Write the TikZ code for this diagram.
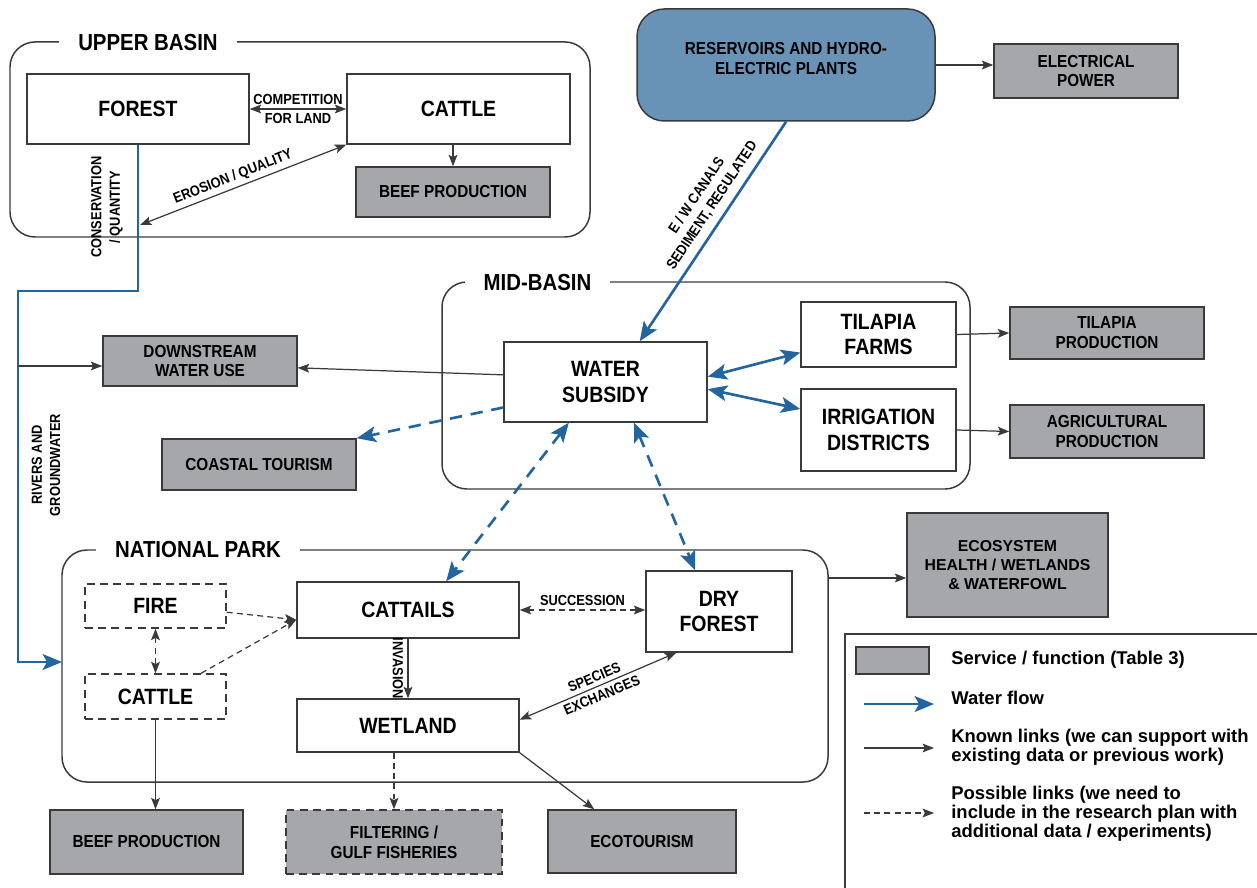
\documentclass[tikz,border=0pt]{standalone}
\usepackage{fontspec}
\setmainfont{Liberation Sans}
\newfontfamily\narrowfont{Liberation Sans}[FakeStretch=0.88]
\usetikzlibrary{arrows.meta,positioning}

\definecolor{flowblue}{HTML}{22659F}
\definecolor{reservoirblue}{HTML}{6893B7}
\definecolor{servicegray}{HTML}{A6A7AA}
\definecolor{edgegray}{HTML}{3A3A3A}

\begin{document}
\begin{tikzpicture}[x=0.02cm, y=-0.02cm,
            dims/.style 2 args={minimum width=#1*0.02cm, minimum height=#2*0.02cm},
            unit/.style={draw=edgegray, line width=0.85pt, rectangle, fill=white, align=center, inner sep=1pt, font=\narrowfont\bfseries\fontsize{12.6}{14.7}\selectfont},
            service/.style={unit, fill=servicegray, font=\narrowfont\bfseries\fontsize{9.9}{11.3}\selectfont},
            possible/.style={unit, dash pattern=on 4.5pt off 3pt},
            frame/.style={draw=edgegray, line width=0.85pt, rounded corners=0.5cm},
            title/.style={fill=white, inner xsep=0.38cm, inner ysep=1pt, font=\narrowfont\bfseries\fontsize{13.2}{15}\selectfont},
            tag/.style={inner sep=2pt, align=center, font=\narrowfont\bfseries\fontsize{8.3}{10.5}\selectfont},
            legend/.style={inner sep=0pt, align=left, font=\bfseries\fontsize{10.5}{10.8}\selectfont},
            arrow/.style={-{Stealth[length=6.5pt, width=5pt, inset=1.3pt]}, line width=0.7pt, draw=edgegray},
            twoway/.style={arrow, {Stealth[length=6.5pt, width=5pt, inset=1.3pt]}-{Stealth[length=6.5pt, width=5pt, inset=1.3pt]}},
            maybe/.style={arrow, dash pattern=on 3.4pt off 2.4pt},
            maybetwoway/.style={twoway, dash pattern=on 3.4pt off 2.4pt},
            flow/.style={-{Stealth[length=11pt, width=9pt, inset=2.5pt]}, line width=1.5pt, draw=flowblue},
            flowtwoway/.style={flow, {Stealth[length=11pt, width=9pt, inset=2.5pt]}-{Stealth[length=11pt, width=9pt, inset=2.5pt]}},
            flowdash/.style={flow, dash pattern=on 7pt off 5pt},
            flowmaybe/.style={flowtwoway, dash pattern=on 7pt off 5pt}
        ]
            \useasboundingbox (0,0) rectangle (1257,888);

% Upper basin
            \draw [frame] (10,42) rectangle (590,237);
            \node (upperlabel) [title] at (148,43) {UPPER BASIN};
            \node (forest) [unit, dims={222}{70}] at (138,109) {FOREST};
            \node (cattleU) [unit, dims={223}{70}] at (458.5,109) {CATTLE};
            \node (beefU) [service, dims={194}{50}] at (453,192) {BEEF PRODUCTION};

% Reservoirs and power
            \node (reservoirs) [service, fill=reservoirblue, rounded corners=0.55cm, dims={298}{112}] at (786,65) {RESERVOIRS AND HYDRO-\\ELECTRIC PLANTS\\[-4pt]};
            \node (electrical) [service, dims={184}{54}] at (1086,71) {ELECTRICAL\\POWER};

% Mid basin
            \draw [frame] (442,282) rectangle (970,489);
            \node (midlabel) [title] at (537.5,283) {MID-BASIN};
            \node (subsidy) [unit, dims={203}{80}] at (605.5,382) {WATER\\SUBSIDY};
            \node (tilapia) [unit, dims={155}{65}] at (878.5,334.5) {TILAPIA\\FARMS};
            \node (irrigation) [unit, dims={155}{82}] at (878.5,430) {IRRIGATION\\DISTRICTS};
            \node (tilapiaprod) [service, dims={194}{52}] at (1107,333) {TILAPIA\\PRODUCTION};
            \node (agriprod) [service, dims={194}{53}] at (1107,431.5) {AGRICULTURAL\\PRODUCTION};
            \node (downstream) [service, dims={194}{50}] at (200,361) {DOWNSTREAM\\WATER USE};
            \node (coastal) [service, dims={194}{51}] at (259,464.5) {COASTAL TOURISM};

% National park
            \draw [frame] (62,550) rectangle (828,782);
            \node (parklabel) [title] at (198,550) {NATIONAL PARK};
            \node (fire) [possible, dims={141}{44}] at (155.5,606) {FIRE};
            \node (cattleP) [possible, dims={141}{45}] at (155.5,696.5) {CATTLE};
            \node (cattails) [unit, dims={222}{56}] at (408,610) {CATTAILS};
            \node (dryforest) [unit, dims={146}{81}] at (719,611.5) {DRY\\FOREST};
            \node (wetland) [unit, dims={222}{53}] at (408,725.5) {WETLAND};
            \node (beefP) [service, dims={193}{64}] at (146.5,842) {BEEF PRODUCTION};
            \node (filtering) [service, dash pattern=on 4.5pt off 3pt, dims={216}{64}] at (394,842) {FILTERING /\\GULF FISHERIES};
            \node (ecotourism) [service, dims={188}{63}] at (642,841.5) {ECOTOURISM};
            \node (ecosystem) [service, dims={201}{104}, font=\bfseries\fontsize{9}{10.8}\selectfont] at (1007.5,565) {ECOSYSTEM\\HEALTH / WETLANDS\\\& WATERFOWL};

% Points on the water path
            \coordinate (bend1) at (138,291);
            \coordinate (bend2) at (18,291);
            \coordinate (bend3) at (18,662);
            \coordinate (parkwest) at (62,662);
            \coordinate (parkeast) at (828,578);
            \coordinate (split) at (18,366);
            \coordinate (erosionend) at (140,225);

% Water flow
            \draw [flow] (forest.south) -- (bend1) -- (bend2) -- (bend3) -- (parkwest);
            \node (conservation) [tag, rotate=90] at (107,207) {CONSERVATION\\/ QUANTITY};
            \node (rivers) [tag, rotate=90] at (46,465) {RIVERS AND\\GROUNDWATER};
            \draw [flow] (reservoirs.south) -- node [tag, sloped, above, pos=0.42, inner sep=4pt] {E / W CANALS\\SEDIMENT, REGULATED} (subsidy.50);
            \draw [flowtwoway] (subsidy.3) -- (tilapia.193);
            \draw [flowtwoway] (subsidy.-4) -- (irrigation.165);
            \draw [flowdash] (subsidy.194) -- (coastal.north east);
            \draw [flowmaybe] (subsidy.228) -- (cattails.37);
            \draw [flowmaybe] (subsidy.305) -- (dryforest.120);

% Known links
            \draw [twoway] (forest.east) -- node [tag, above] {COMPETITION} node [tag, below] {FOR LAND} (cattleU.west);
            \draw [twoway] (erosionend) -- node [tag, sloped, above, pos=0.47] {EROSION / QUALITY} (cattleU.south west);
            \draw [arrow] (beefU.north |- cattleU.south) -- (beefU.north);
            \draw [arrow] (reservoirs.east) -- (reservoirs.east -| electrical.west);
            \draw [arrow] (tilapia.east) -- (tilapiaprod.west);
            \draw [arrow] (irrigation.east) -- (agriprod.west);
            \draw [arrow] (subsidy.176) -- (downstream.-4);
            \draw [arrow] (split) -- (split -| downstream.west);
            \draw [arrow] (cattails.south) -- node [tag, rotate=-90, anchor=north, inner sep=2.5pt] {INVASION} (wetland.north);
            \draw [twoway] (wetland.3) -- node [tag, sloped, font=\narrowfont\bfseries\fontsize{8.3}{11}\selectfont] {SPECIES\\EXCHANGES} (dryforest.224);
            \draw [arrow] (wetland.south east) -- (ecotourism.146);
            \draw [arrow] (cattleP.south) -- (cattleP.south |- beefP.north);
            \draw [arrow] (parkeast) -- (parkeast -| ecosystem.west);

% Possible links
            \draw [maybe] (fire.-5) -- (cattails.185);
            \draw [maybe] (cattleP.27) -- (cattails.185);
            \draw [maybetwoway] (fire.south) -- (cattleP.north);
            \draw [maybetwoway] (cattails.east) -- node [tag, above] {SUCCESSION} (cattails.east -| dryforest.west);
            \draw [maybe] (filtering.north |- wetland.south) -- (filtering.north);

% Legend
            \draw [line width=0.85pt, draw=edgegray] (845,634) rectangle (1275,905);
            \node (legservice) [service, dims={73}{27}] at (892.5,660.5) {};
            \node (legservicetext) [legend, anchor=west] at (951,660) {Service / function (Table 3)};
            \coordinate (legflowa) at (864,704);
            \coordinate (legflowb) at (934,704);
            \draw [flow] (legflowa) -- (legflowb);
            \node (legflowtext) [legend, anchor=west] at (951,698) {Water flow};
            \coordinate (legknowna) at (864,748);
            \coordinate (legknownb) at (934,748);
            \draw [arrow] (legknowna) -- (legknownb);
            \node (legknowntext) [legend, anchor=west] at (951,747) {Known links (we can support with\\existing data or previous work)};
            \coordinate (legmaybea) at (864,813);
            \coordinate (legmaybeb) at (934,813);
            \draw [maybe] (legmaybea) -- (legmaybeb);
            \node (legmaybetext) [legend, anchor=west] at (951,814) {Possible links (we need to\\include in the research plan with\\additional data / experiments)};

        \end{tikzpicture}
\end{document}
